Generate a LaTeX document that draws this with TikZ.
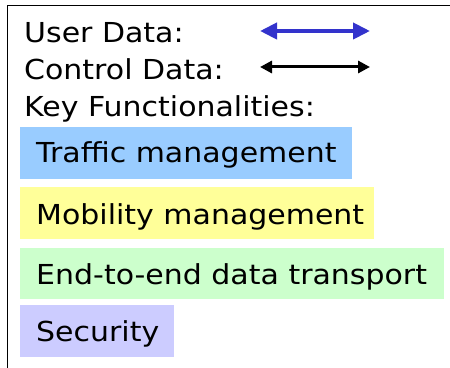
\documentclass[tikz,border=0pt]{standalone}
\usepackage{fontspec}
\setmainfont[FakeStretch=1.09]{DejaVu Sans}
\usetikzlibrary{arrows.meta}
\definecolor{userblue}{HTML}{3333CC}
\definecolor{trafficc}{HTML}{99CCFF}
\definecolor{mobilityc}{HTML}{FFFF99}
\definecolor{transportc}{HTML}{CCFFCC}
\definecolor{securityc}{HTML}{CCCCFF}
\tikzset{
  lbl/.style={anchor=base west, inner sep=0pt, font=\fontsize{27.5}{30}\selectfont},
  userarrow/.style={draw=userblue, line width=4pt, {Triangle[length=17pt,width=16pt]}-{Triangle[length=17pt,width=16pt]}},
  ctrlarrow/.style={draw=black, line width=3pt, {Triangle[length=12pt,width=12pt]}-{Triangle[length=12pt,width=12pt]}},
  frame/.style={draw=black, line width=1.8pt}
}
\begin{document}
\begin{tikzpicture}[x=1pt,y=1pt]
\useasboundingbox (0,0) rectangle (450,367);
% frame
\coordinate (fbl) at (7.5,-2);
\coordinate (ftl) at (7.5,361.5);
\coordinate (ftr) at (452,361.5);
\draw[frame] (fbl) -- (ftl) -- (ftr);
% boxes
\fill[trafficc] (20,367-179) rectangle (352,367-127);
\fill[mobilityc] (20,367-239) rectangle (374,367-187);
\fill[transportc] (20,367-299) rectangle (444,367-248);
\fill[securityc] (20,367-357) rectangle (174,367-305);
% legend texts
\node[lbl] (user) at (24,324) {User Data:};
\node[lbl] (ctrl) at (24,287) {Control Data:};
\node[lbl] (key) at (24,250) {Key Functionalities:};
\node[lbl] (traffic) at (36,204) {Traffic management};
\node[lbl] (mobility) at (36,142) {Mobility management};
\node[lbl] (transport) at (36,82.7) {End-to-end data transport};
\node[lbl] (security) at (36,25.3) {Security};
% arrows
\coordinate (ua) at (260,336);
\coordinate (ub) at (370,336);
\coordinate (ca) at (260,300);
\coordinate (cb) at (370,300);
\draw[userarrow] (ua) -- (ub);
\draw[ctrlarrow] (ca) -- (cb);
\end{tikzpicture}
\end{document}
